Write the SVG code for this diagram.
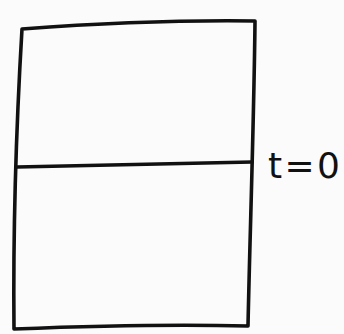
<svg xmlns="http://www.w3.org/2000/svg" width="344" height="334" viewBox="0 0 344 334">
<style>
.ln{fill:none;stroke:#111;stroke-width:3.6;stroke-linecap:round;stroke-linejoin:round}
.lbl{font-family:"DejaVu Sans",sans-serif;font-size:36px;fill:#111}
</style>
<rect width="344" height="334" fill="#fbfbfb"/>
<g id="box">
<path class="ln" d="M22,29 C90,24 180,20 255,21 C254,120 250,230 248,326 C170,324 90,326 14,329 C13,230 16,130 22,29 Z"/>
</g>
<g id="divider">
<path class="ln" d="M17,167 C90,165 170,164 252,162"/>
</g>
<g id="label">
<text class="lbl" x="268" y="178" textLength="72" lengthAdjust="spacing">t=0</text>
</g>
</svg>
